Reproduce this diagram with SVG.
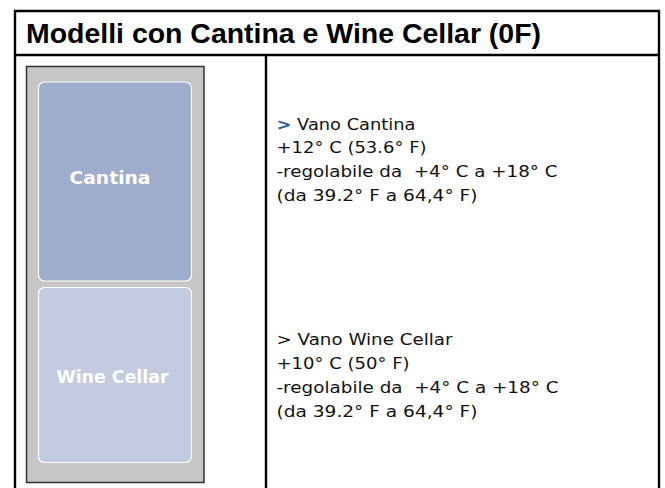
<svg xmlns="http://www.w3.org/2000/svg" width="665" height="488" viewBox="0 0 665 488">
<style>
.frame{fill:none;stroke:#000;stroke-width:2.4}
.title{font-family:"Liberation Sans",Arial,sans-serif;font-weight:bold;font-size:27px;fill:#000}
.body{font-family:"DejaVu Sans","Liberation Sans",sans-serif;font-size:16.5px;fill:#111}
.lbl{font-family:"DejaVu Sans","Liberation Sans",sans-serif;font-weight:bold;font-size:17px;fill:#fff;text-anchor:middle}
.comp{stroke:#fff;stroke-width:1.2}
</style>
<rect width="665" height="488" fill="#fff"/>
<g id="frame">
<path class="frame" d="M15,490 V11 H659 V490 M15,55 H659 M266,55 V490"/>
</g>
<g id="title">
<text class="title" x="26" y="43" textLength="515" lengthAdjust="spacingAndGlyphs">Modelli con Cantina e Wine Cellar (0F)</text>
</g>
<g id="cabinet">
<rect x="26.5" y="66.5" width="177.5" height="416" fill="#c6c6c6" stroke="#333" stroke-width="1.5"/>
</g>
<g id="cantina">
<rect class="comp" x="38.5" y="82" width="153" height="199" rx="6" fill="#9eadcb"/>
<text class="lbl" x="110" y="184" textLength="81" lengthAdjust="spacingAndGlyphs">Cantina</text>
</g>
<g id="winecellar">
<rect class="comp" x="38.5" y="287.5" width="153" height="175" rx="6" fill="#c2cbe0"/>
<text class="lbl" x="112.5" y="383" textLength="112" lengthAdjust="spacingAndGlyphs">Wine Cellar</text>
</g>
<g id="info-cantina">
<text class="body" x="276.5" y="129.5" textLength="139" lengthAdjust="spacingAndGlyphs"><tspan fill="#2a5a9a" font-weight="bold">&gt;</tspan> Vano Cantina</text>
<text class="body" x="276.5" y="153.3" textLength="150" lengthAdjust="spacingAndGlyphs">+12° C (53.6° F)</text>
<text class="body" x="276.5" y="177.1" xml:space="preserve" textLength="281" lengthAdjust="spacingAndGlyphs">-regolabile da  +4° C a +18° C</text>
<text class="body" x="276.5" y="200.9" textLength="201" lengthAdjust="spacingAndGlyphs">(da 39.2° F a 64,4° F)</text>
</g>
<g id="info-winecellar">
<text class="body" x="276.5" y="345" textLength="176" lengthAdjust="spacingAndGlyphs">&gt; Vano Wine Cellar</text>
<text class="body" x="276.5" y="369" textLength="133" lengthAdjust="spacingAndGlyphs">+10° C (50° F)</text>
<text class="body" x="276.5" y="393" xml:space="preserve" textLength="282" lengthAdjust="spacingAndGlyphs">-regolabile da  +4° C a +18° C</text>
<text class="body" x="276.5" y="417" textLength="201" lengthAdjust="spacingAndGlyphs">(da 39.2° F a 64,4° F)</text>
</g>
<g id="connectors"/>
</svg>
